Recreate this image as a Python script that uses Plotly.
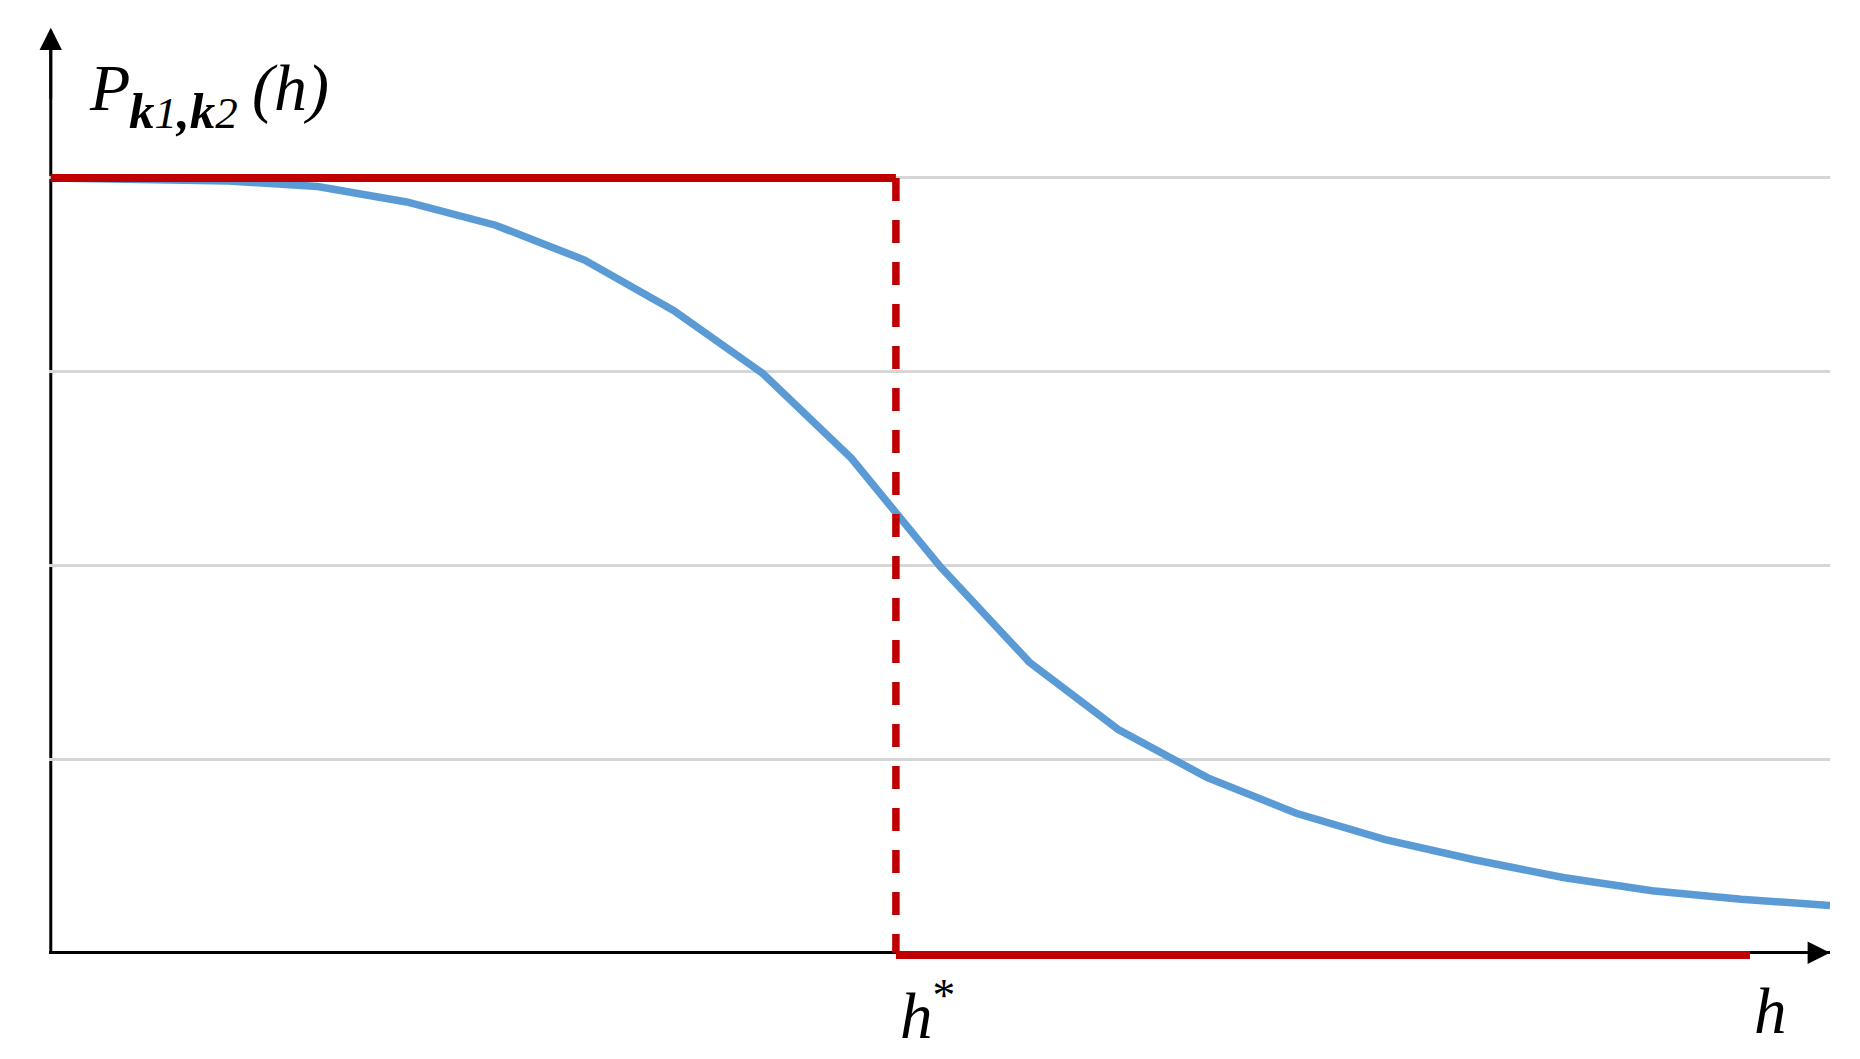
import plotly.graph_objects as go

# ---- data ----
h_index = list(range(21))
p_values = [1.000, 0.999, 0.996, 0.989, 0.969, 0.939, 0.894, 0.829, 0.748, 0.638,
            0.498, 0.375, 0.288, 0.226, 0.180, 0.146, 0.120, 0.097, 0.080, 0.069, 0.061]

h_star = 9.5          # threshold position
h_end = 19.1          # end of the ideal step's lower part
step_high = 1.0
step_low = -0.003

y_grid = [0.25, 0.5, 0.75, 1.0]

BLUE = "#5B9BD5"
RED = "#C00000"
FONT = "Liberation Serif"

fig = go.Figure()

fig.add_trace(go.Scatter(x=h_index, y=p_values, mode="lines",
                         line=dict(color=BLUE, width=7.5), hoverinfo="skip"))
# ideal step function
fig.add_trace(go.Scatter(x=[0, h_star], y=[step_high, step_high], mode="lines",
                         line=dict(color=RED, width=8), hoverinfo="skip"))
fig.add_trace(go.Scatter(x=[h_star, h_star], y=[step_high, 0], mode="lines",
                         line=dict(color=RED, width=7.5, dash="23px,19px"), hoverinfo="skip"))
fig.add_trace(go.Scatter(x=[h_star, h_end], y=[step_low, step_low], mode="lines",
                         line=dict(color=RED, width=8), hoverinfo="skip"))

L, R, T, B = 49, 30, 23, 97
W, H = 1860, 1059
pw, ph = W - L - R, H - T - B


def px(xp):
    return (xp - L) / pw


def py(yp):
    return (H - B - yp) / ph


annotations = [
    # axis arrowheads
    dict(x=20, y=0, ax=19.6, ay=0, xref="x", yref="y", axref="x", ayref="y",
         text="", showarrow=True, arrowhead=2, arrowsize=1.6, arrowwidth=2.8,
         arrowcolor="black"),
    dict(x=0, y=1.194, ax=0, ay=1.1, xref="x", yref="y", axref="x", ayref="y",
         text="", showarrow=True, arrowhead=2, arrowsize=1.6, arrowwidth=2.8,
         arrowcolor="black"),
    # y label P_{k1,k2}(h)
    dict(x=px(87), y=py(110 - 22.3), xref="paper", yref="paper", xanchor="left",
         yanchor="middle", showarrow=False, text="<i>P</i>",
         font=dict(family=FONT, size=66, color="black")),
    dict(x=px(127), y=py(128 - 17), xref="paper", yref="paper", xanchor="left",
         yanchor="middle", showarrow=False,
         text="<i><b>k</b><span style='font-size:45px'>1</span><b>,k</b>"
              "<span style='font-size:45px'>2</span></i>",
         font=dict(family=FONT, size=51, color="black")),
    dict(x=px(250), y=py(110 - 22.3), xref="paper", yref="paper", xanchor="left",
         yanchor="middle", showarrow=False, text="<i>(h)</i>",
         font=dict(family=FONT, size=66, color="black")),
    # x labels
    dict(x=px(898), y=py(1033 - 22), xref="paper", yref="paper", xanchor="left",
         yanchor="middle", showarrow=False, text="<i>h</i><sup>*</sup>",
         font=dict(family=FONT, size=65, color="black")),
    dict(x=px(1752), y=py(1033 - 22), xref="paper", yref="paper", xanchor="left",
         yanchor="middle", showarrow=False, text="<i>h</i>",
         font=dict(family=FONT, size=65, color="black")),
]

shapes = [
    # vertical axis line
    dict(type="line", xref="x", yref="y", x0=0, x1=0, y0=0, y1=1.19,
         line=dict(color="black", width=3), layer="below"),
]

fig.update_layout(
    width=W, height=H,
    margin=dict(l=L, r=R, t=T, b=B, pad=0),
    paper_bgcolor="white", plot_bgcolor="white",
    showlegend=False,
    annotations=annotations,
    shapes=shapes,
    xaxis=dict(range=[-0.02, 20], showgrid=False, zeroline=False, showticklabels=False,
               ticks="", showline=False, fixedrange=True),
    yaxis=dict(range=[-0.012, 1.2], tickvals=y_grid, showgrid=True, gridcolor="#D6D6D6",
               gridwidth=2.5, zeroline=True, zerolinecolor="black", zerolinewidth=3,
               showticklabels=False, ticks="", showline=False, fixedrange=True),
)

fig.write_html("out.html", config={"displayModeBar": False},
               post_script="document.body.style.margin='0';")
